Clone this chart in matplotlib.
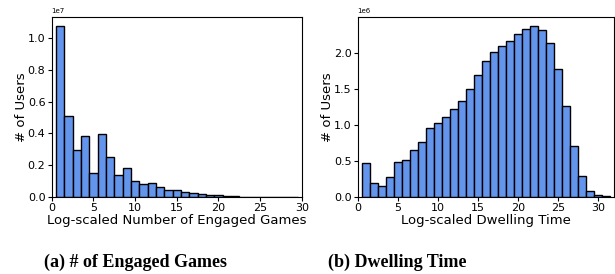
import matplotlib
matplotlib.use("Agg")
import matplotlib.pyplot as plt
import numpy as np

# Left panel: Log-scaled Number of Engaged Games (units of 1e7)
games_bins = list(range(1, 30))
games_counts = [1.079, 0.512, 0.297, 0.385, 0.148, 0.393, 0.250, 0.135, 0.179,
                0.097, 0.080, 0.086, 0.059, 0.043, 0.040, 0.030, 0.023, 0.017,
                0.013, 0.008, 0.005, 0.002, 0.001, 0.0005, 0.0003, 0.0002,
                0.0001, 0.0001, 0.0001]

# Right panel: Log-scaled Dwelling Time (units of 1e6)
dwell_bins = list(range(1, 32))
dwell_counts = [0.468, 0.194, 0.153, 0.269, 0.486, 0.505, 0.648, 0.764, 0.958,
                1.019, 1.111, 1.218, 1.329, 1.500, 1.694, 1.880, 2.009, 2.097,
                2.171, 2.255, 2.333, 2.375, 2.324, 2.139, 1.782, 1.255, 0.704,
                0.292, 0.083, 0.019, 0.003]

bar_color = "#6495ED"

fig = plt.figure(figsize=(6.15, 2.74), dpi=100)

ax1 = fig.add_axes([51.7/615, 77.3/274, 250/615, 179.4/274])
ax2 = fig.add_axes([357.7/615, 77.3/274, 256.3/615, 179.4/274])

ax1.bar(games_bins, np.array(games_counts) * 1e7, width=1.0,
        color=bar_color, edgecolor="black", linewidth=1.0)
ax1.set_xlim(0, 30)
ax1.set_xticks([0, 5, 10, 15, 20, 25, 30])
ax1.set_yticks([0, 0.2e7, 0.4e7, 0.6e7, 0.8e7, 1.0e7])
ax1.set_xlabel("Log-scaled Number of Engaged Games", fontsize=9.5, labelpad=1)
ax1.set_ylabel("# of Users", fontsize=9.5, labelpad=0)

ax2.bar(dwell_bins, np.array(dwell_counts) * 1e6, width=1.0,
        color=bar_color, edgecolor="black", linewidth=1.0)
ax2.set_xlim(0, 32)
ax2.set_xticks([0, 5, 10, 15, 20, 25, 30])
ax2.set_yticks([0, 0.5e6, 1.0e6, 1.5e6, 2.0e6])
ax2.set_xlabel("Log-scaled Dwelling Time", fontsize=9.5, labelpad=1)
ax2.set_ylabel("# of Users", fontsize=9.5, labelpad=0)

for ax in (ax1, ax2):
    ax.tick_params(labelsize=8, pad=1.5, length=3)
    ax.yaxis.get_offset_text().set_fontsize(5)
    for s in ax.spines.values():
        s.set_linewidth(0.8)

fig.text(136/615, 1 - 262/274, "(a) # of Engaged Games", ha="center", va="center",
         fontsize=13, fontweight="bold", family="Liberation Serif")
fig.text(397/615, 1 - 262/274, "(b) Dwelling Time", ha="center", va="center",
         fontsize=13, fontweight="bold", family="Liberation Serif")

fig.savefig("out.png", dpi=100)
